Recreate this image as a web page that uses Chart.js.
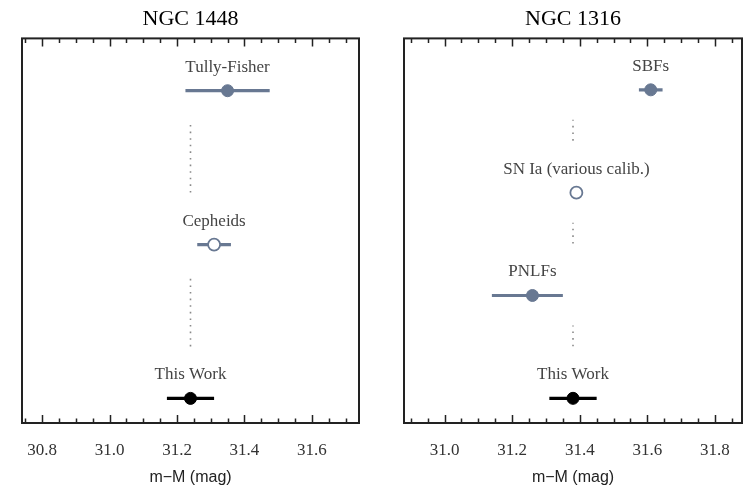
<!DOCTYPE html>
<html><head><meta charset="utf-8">
<script src="https://cdn.jsdelivr.net/npm/chart.js@4/dist/chart.umd.min.js"></script>
<style>
body{margin:0;background:#fff;width:743px;height:487px;overflow:hidden;position:relative}
canvas{position:absolute;top:0}
</style></head><body>
<canvas id="c1" width="370" height="487" style="left:0"></canvas>
<canvas id="c2" width="363" height="487" style="left:380px"></canvas>
<script>
// ---- data ----
const n1448Methods = ['This Work', 'Cepheids', 'Tully-Fisher'];
const n1448Mod     = [31.24, 31.31, 31.35];
const n1448ErrLo   = [0.07, 0.05, 0.125];
const n1448ErrHi   = [0.07, 0.05, 0.125];
const n1448Ticks   = [30.8, 31.0, 31.2, 31.4, 31.6];

const n1316Methods = ['This Work', 'PNLFs', 'SN Ia (various calib.)', 'SBFs'];
const n1316Mod     = [31.38, 31.26, 31.39, 31.61];
const n1316ErrLo   = [0.07, 0.12, null, 0.035];
const n1316ErrHi   = [0.07, 0.09, null, 0.035];
const n1316Ticks   = [31.0, 31.2, 31.4, 31.6, 31.8];

// ---- styles ----
const BLUE = '#687892';
const OPEN_METHODS = ['Cepheids', 'SN Ia (various calib.)'];
function styleFor(m) {
  if (m === 'This Work') return {color: '#000', open: false};
  return {color: BLUE, open: OPEN_METHODS.includes(m)};
}
const SERIF = '"Liberation Serif", "DejaVu Serif", serif';
const SANS = '"Liberation Sans", Arial, sans-serif';

const framePlugin = {
  id: 'frame',
  afterDraw(chart) {
    const {ctx, chartArea: a, scales: {x}} = chart;
    ctx.save();
    ctx.strokeStyle = '#222';
    ctx.lineWidth = 2;
    ctx.strokeRect(a.left, a.top, a.right - a.left, a.bottom - a.top);
    ctx.lineWidth = 1.5;
    const k0 = Math.ceil(x.min * 20 - 1e-6), k1 = Math.floor(x.max * 20 + 1e-6);
    for (let k = k0; k <= k1; k++) {
      const px = Math.round(x.getPixelForValue(k / 20)) + 0.5;
      const len = (k % 4 === 0) ? 8 : 4.5;
      ctx.beginPath();
      ctx.moveTo(px, a.bottom); ctx.lineTo(px, a.bottom - len);
      ctx.moveTo(px, a.top); ctx.lineTo(px, a.top + len);
      ctx.stroke();
    }
    ctx.restore();
  }
};

const labelPlugin = {
  id: 'labels',
  afterDatasetsDraw(chart, args, opts) {
    const {ctx, scales: {x, y}} = chart;
    const methods = opts.methods, mod = opts.mod;
    ctx.save();
    // dotted connectors at the "This Work" value
    const px = x.getPixelForValue(mod[0]);
    ctx.strokeStyle = '#8a8a8a';
    ctx.lineWidth = 1.6;
    ctx.setLineDash([1.6, 5]);
    for (let i = 0; i < methods.length - 1; i++) {
      const yLow = y.getPixelForValue(i), yHigh = y.getPixelForValue(i + 1);
      ctx.beginPath();
      ctx.moveTo(px, yLow - 52);
      ctx.lineTo(px, yHigh + 30);
      ctx.stroke();
    }
    ctx.setLineDash([]);
    ctx.fillStyle = '#444';
    ctx.font = '17px ' + SERIF;
    ctx.textAlign = 'center';
    ctx.textBaseline = 'alphabetic';
    methods.forEach((m, i) => {
      ctx.fillText(m, x.getPixelForValue(mod[i]), y.getPixelForValue(i) - 19);
    });
    ctx.restore();
  }
};

function makeChart(id, title, methods, mod, lo, hi, ticks, xmin, xmax, ymin, ymax, padL, padR) {
  const datasets = [];
  datasets.push({
    type: 'scatter',
    order: 0,
    data: methods.map((m, i) => ({x: mod[i], y: i})),
    pointRadius: 6,
    pointBackgroundColor: methods.map(m => styleFor(m).open ? '#fff' : styleFor(m).color),
    pointBorderColor: methods.map(m => styleFor(m).color),
    pointBorderWidth: methods.map(m => styleFor(m).open ? 1.8 : 1),
  });
  methods.forEach((m, i) => {
    if (lo[i] == null) return;
    datasets.push({
      type: 'line',
      order: 1,
      data: [{x: mod[i] - lo[i], y: i}, {x: mod[i] + hi[i], y: i}],
      borderColor: styleFor(m).color,
      borderWidth: 3.2,
      pointRadius: 0,
      fill: false,
    });
  });
  return new Chart(document.getElementById(id), {
    data: {datasets},
    plugins: [framePlugin, labelPlugin],
    options: {
      responsive: false,
      animation: false,
      events: [],
      layout: {autoPadding: false, padding: {left: padL, right: padR, top: 0, bottom: 0}},
      plugins: {
        legend: {display: false},
        tooltip: {enabled: false},
        title: {display: true, text: title, color: '#000',
                font: {family: SERIF, size: 22, weight: 'normal'},
                padding: {top: 6, bottom: 6}},
        labels: {methods, mod},
      },
      scales: {
        x: {
          type: 'linear', min: xmin, max: xmax,
          afterBuildTicks: s => { s.ticks = ticks.map(v => ({value: v})); },
          afterFit: s => { s.height = 64; s.paddingLeft = 0; s.paddingRight = 0; },
          grid: {display: false, drawTicks: false},
          border: {display: false},
          ticks: {padding: 17, color: '#333', font: {family: SERIF, size: 17},
                  callback: v => Number(v).toFixed(1)},
          title: {display: true, text: 'm\u2212M (mag)', color: '#222',
                  font: {family: SANS, size: 16}, padding: {top: 0, bottom: 0}},
        },
        y: {type: 'linear', min: ymin, max: ymax, display: false},
      },
    },
  });
}

makeChart('c1', 'NGC 1448', n1448Methods, n1448Mod, n1448ErrLo, n1448ErrHi, n1448Ticks,
          30.74, 31.74, -0.16, 2.34, 22, 11);
makeChart('c2', 'NGC 1316', n1316Methods, n1316Mod, n1316ErrLo, n1316ErrHi, n1316Ticks,
          30.88, 31.88, -0.24, 3.5, 24, 1);
</script>
</body></html>
